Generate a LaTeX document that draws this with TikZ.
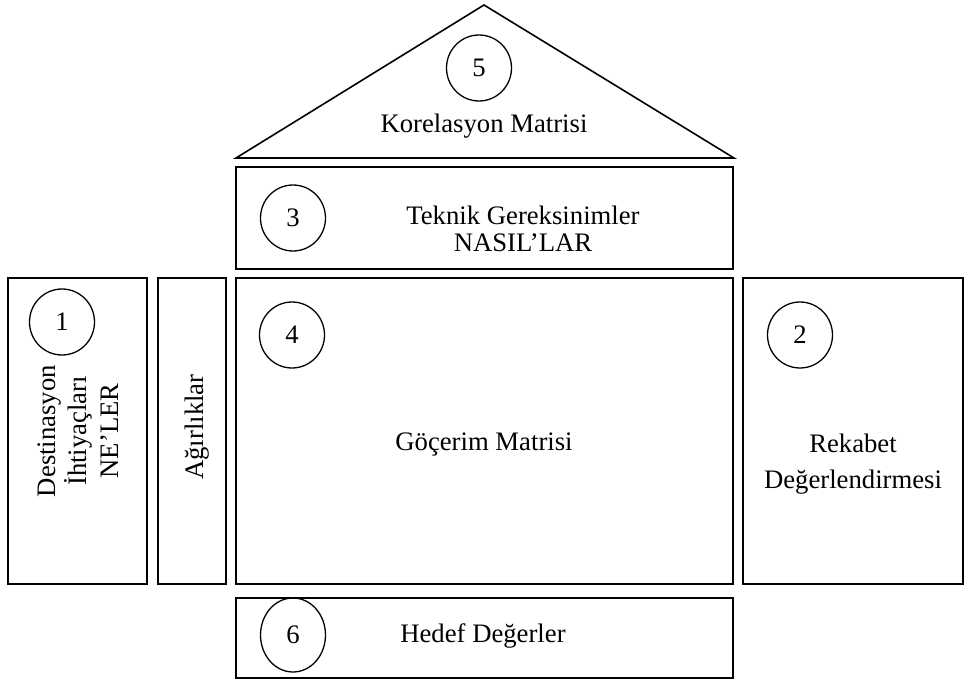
\documentclass[tikz,border=0pt]{standalone}
\usepackage{fontspec}
\setmainfont{Liberation Serif}
\usetikzlibrary{shapes.geometric}
\begin{document}
\begin{tikzpicture}[x=1pt,y=-1pt,
  box/.style={draw, line width=1.6pt, rectangle, inner sep=0pt},
  num/.style={draw, line width=1.3pt, ellipse, inner sep=0pt, minimum width=65pt, minimum height=66pt, font=\fontsize{26.7}{30}\selectfont},
  lbl/.style={anchor=base, inner sep=0pt, font=\fontsize{26.7}{30}\selectfont}]
\useasboundingbox (0,0) rectangle (966,679);
% roof
\coordinate (rl) at (236,158);
\coordinate (rt) at (484,5);
\coordinate (rr) at (734,158);
\draw[line width=1.6pt, line join=miter] (rl) -- (rt) -- (rr) -- cycle;
\node[num] (c5) at (479,68) {5};
\node[lbl] (t5) at (484,133) {Korelasyon Matrisi};
% boxes
\node[box, minimum width=497pt, minimum height=102pt] (b3) at (484.5,218) {};
\node[box, minimum width=497pt, minimum height=306pt] (b4) at (484.5,431) {};
\node[box, minimum width=139pt, minimum height=306pt] (b1) at (77.5,431) {};
\node[box, minimum width=68pt, minimum height=306pt] (bw) at (192,431) {};
\node[box, minimum width=220pt, minimum height=306pt] (b2) at (853,431) {};
\node[box, minimum width=497pt, minimum height=80pt] (b6) at (484.5,638) {};
% circles
\node[num] (c3) at (293,218) {3};
\node[num] (c4) at (292,335) {4};
\node[num] (c1) at (62,322) {1};
\node[num] (c2) at (800,335) {2};
\node[num, minimum height=74pt] (c6) at (293,635) {6};
% texts
\node[lbl] (t3a) at (523,224) {Teknik Gereksinimler};
\node[lbl] (t3b) at (523,251) {NASIL’LAR};
\node[lbl] (t4) at (484,450) {Göçerim Matrisi};
\node[lbl] (t2a) at (853,452) {Rekabet};
\node[lbl] (t2b) at (853,488) {Değerlendirmesi};
\node[lbl] (t6) at (483,642) {Hedef Değerler};
\node[lbl, rotate=90] (t1a) at (55,431) {Destinasyon};
\node[lbl, rotate=90] (t1b) at (86,431) {İhtiyaçları};
\node[lbl, rotate=90] (t1c) at (118,431) {NE’LER};
\node[lbl, rotate=90] (tw) at (203,427) {Ağırlıklar};
\end{tikzpicture}
\end{document}
